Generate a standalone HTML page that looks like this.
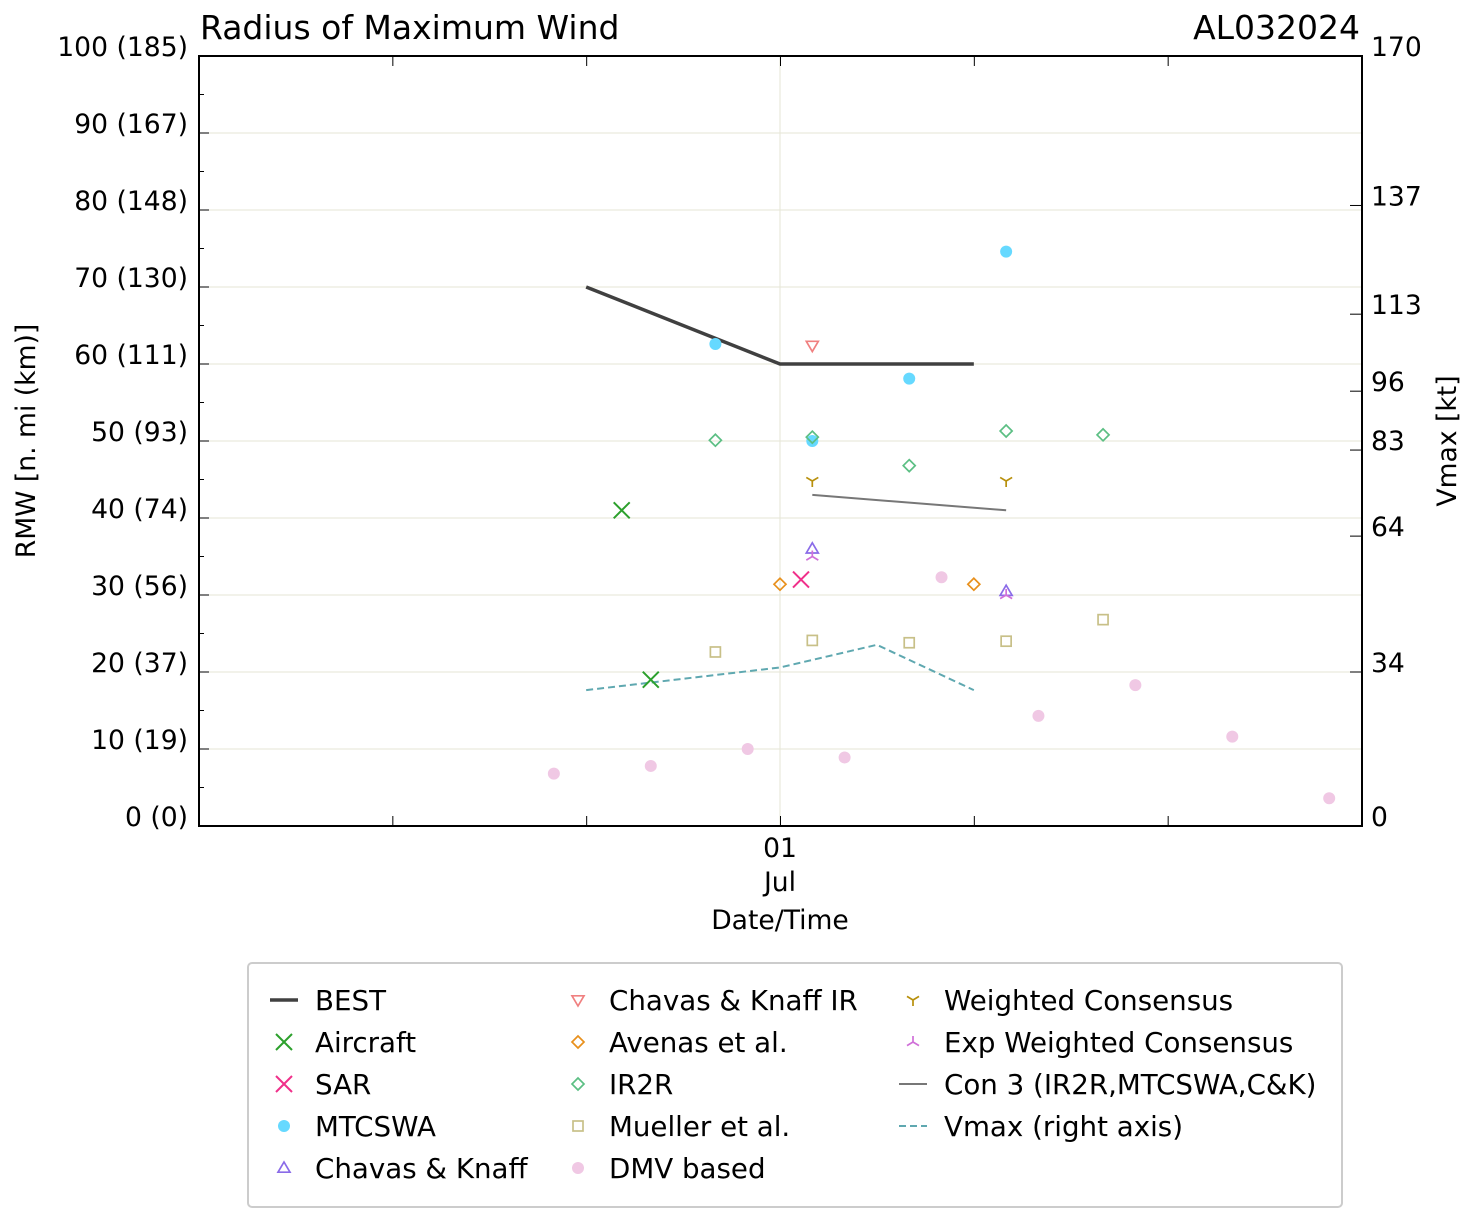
<!DOCTYPE html>
<html><head><meta charset="utf-8"><style>
body{margin:0;background:#fff;font-family:"DejaVu Sans","Liberation Sans",sans-serif}
svg text{font-family:"DejaVu Sans","Liberation Sans",sans-serif}
</style></head><body>
<svg id="c" width="1477" height="1222" xmlns="http://www.w3.org/2000/svg"></svg>
<script>
// data (hours relative to 01 Jul 00Z, RMW in n mi, Vmax in kt)
const bestH=[-6,0,6], bestV=[70,60,60];
const aircraftH=[-4.9,-4], aircraftV=[41,19];
const sarH=[0.65], sarV=[32];
const mtcH=[-2,1,4,7], mtcV=[62.6,50,58.1,74.6];
const ckH=[1,7], ckV=[36,30.5];
const ckirH=[1], ckirV=[62.4];
const avenasH=[0,6], avenasV=[31.4,31.4];
const ir2rH=[-2,1,4,7,10], ir2rV=[50.1,50.5,46.8,51.3,50.8];
const muellerH=[-2,1,4,7,10], muellerV=[22.6,24.1,23.8,24,26.8];
const dmvH=[-7,-4,-1,2,5,8,11,14,17], dmvV=[6.8,7.8,10,8.9,32.3,14.3,18.3,11.6,3.6];
const wcH=[1,7], wcV=[44.8,44.8];
const ewcH=[1,7], ewcV=[35,30];
const con3H=[1,7], con3V=[43,41];
const vmaxH=[-6,0,3,6], vmaxV=[30,35,40,30];
const leftTicks=[0,10,20,30,40,50,60,70,80,90,100];
const leftLabels=["0 (0)","10 (19)","20 (37)","30 (56)","40 (74)","50 (93)","60 (111)","70 (130)","80 (148)","90 (167)","100 (185)"];
const rightTicks=[0,34,64,83,96,113,137,170];

const X0=199,X1=1362,Y0=56,Y1=826;
const xs=h=>780+h*(X1-X0)/36;
const ys=v=>Y1-v*(Y1-Y0)/100;
const yr=v=>Y1-v*(Y1-Y0)/170;
const svg=document.getElementById('c');
const NS='http://www.w3.org/2000/svg';
function el(t,a,p){const e=document.createElementNS(NS,t);for(const k in a)e.setAttribute(k,a[k]);(p||svg).appendChild(e);return e;}
function tx(x,y,s,size,anchor,nm){const e=el('text',{x:x,y:y,'font-size':size,'text-anchor':anchor||'start',fill:'#000'});e.textContent=s;

return e;}

// grid
for(const v of leftTicks.slice(1,-1)){const g=el('line',{x1:X0,x2:X1,y1:ys(v),y2:ys(v),stroke:'#e6e6d6','stroke-width':1});

}
const vg=el('line',{x1:780,x2:780,y1:Y0,y2:Y1,stroke:'#e6e6d6','stroke-width':1});



// ticks
for(let v=0;v<=100;v+=5){const L=v%10==0?10:5;el('line',{x1:X0,x2:X0+L,y1:ys(v),y2:ys(v),stroke:'#000'});}
leftTicks.forEach((v,i)=>tx(188,ys(v)+0,leftLabels[i],26.6,'end','left-tick-label'));
rightTicks.forEach(v=>{el('line',{x1:X1,x2:X1-12,y1:yr(v),y2:yr(v),stroke:'#000'});tx(1371,yr(v),String(v),26.6,'start','right-tick-label');});
for(let i=0;i<=6;i++){const x=X0+i*(X1-X0)/6;el('line',{x1:x,x2:x,y1:Y1,y2:Y1-10,stroke:'#000'});el('line',{x1:x,x2:x,y1:Y0,y2:Y0+10,stroke:'#000'});}
tx(780,857,'01',26.6,'middle','x-tick-day');tx(780,891,'Jul',26.6,'middle','x-tick-month');
tx(780,929,'Date/Time',26.6,'middle','x-axis-title');
tx(200,39,'Radius of Maximum Wind',33,'start','chart-title');
tx(1360,39,'AL032024',33,'end','storm-id');
const yl=tx(0,0,'RMW [n. mi (km)]',26.6,'middle','y-axis-title');yl.setAttribute('transform','translate(35,441) rotate(-90)');
const yr2=tx(0,0,'Vmax [kt]',26.6,'middle','y2-axis-title');yr2.setAttribute('transform','translate(1456,441) rotate(-90)');

// markers
function marker(type,x,y,col,s){const g=el('g',{});
 if(type=='x'){el('path',{d:`M${x-s} ${y-s}L${x+s} ${y+s}M${x-s} ${y+s}L${x+s} ${y-s}`,stroke:col,'stroke-width':2,fill:'none'},g);}
 else if(type=='o'){el('circle',{cx:x,cy:y,r:s,fill:col},g);}
 else if(type=='^'){el('path',{d:`M${x} ${y-s}L${x+s} ${y+s*0.7}L${x-s} ${y+s*0.7}Z`,stroke:col,'stroke-width':1.7,fill:'none'},g);}
 else if(type=='v'){el('path',{d:`M${x} ${y+s}L${x+s} ${y-s*0.7}L${x-s} ${y-s*0.7}Z`,stroke:col,'stroke-width':1.7,fill:'none'},g);}
 else if(type=='d'){el('path',{d:`M${x} ${y-s}L${x+s} ${y}L${x} ${y+s}L${x-s} ${y}Z`,stroke:col,'stroke-width':1.7,fill:'none'},g);}
 else if(type=='s'){el('rect',{x:x-s,y:y-s,width:2*s,height:2*s,stroke:col,'stroke-width':1.7,fill:'none'},g);}
 else if(type=='1'){el('path',{d:`M${x} ${y}L${x} ${y+s}M${x} ${y}L${x-s} ${y-s*0.6}M${x} ${y}L${x+s} ${y-s*0.6}`,stroke:col,'stroke-width':1.7,fill:'none'},g);}
 else if(type=='2'){el('path',{d:`M${x} ${y}L${x} ${y-s}M${x} ${y}L${x-s} ${y+s*0.6}M${x} ${y}L${x+s} ${y+s*0.6}`,stroke:col,'stroke-width':1.7,fill:'none'},g);}
 return g;}
function series(H,V,type,col,s,nm){H.forEach((h,i)=>{const g=marker(type,xs(h),ys(V[i]),col,s);

});}
function line(H,V,yf,col,w,dash,nm){const p=el('polyline',{points:H.map((h,i)=>xs(h)+','+yf(V[i])).join(' '),stroke:col,'stroke-width':w,fill:'none','stroke-dasharray':dash||'none'});

}

series(dmvH,dmvV,'o','#f0c8e4',6,'dmv-point');
line(vmaxH,vmaxV,yr,'#5fa8b0',2,'7,4','vmax-line');
line(bestH,bestV,ys,'#404040',3.5,null,'best-track-line');
line(con3H,con3V,ys,'#777',2,null,'con3-line');
series(aircraftH,aircraftV,'x','#2ca02c',8,'aircraft-point');
series(sarH,sarV,'x','#f0308a',8,'sar-point');
series(mtcH,mtcV,'o','#66d9ff',6,'mtcswa-point');
series(ckH,ckV,'^','#8a6be8',6,'chavas-knaff-point');
series(ckirH,ckirV,'v','#f08080',6,'chavas-knaff-ir-point');
series(avenasH,avenasV,'d','#e8901c',6,'avenas-point');
series(ir2rH,ir2rV,'d','#5cbf84',6,'ir2r-point');
series(muellerH,muellerV,'s','#c8c088',5,'mueller-point');
series(wcH,wcV,'1','#b8900c',6,'weighted-consensus-point');
series(ewcH,ewcV,'2','#d070d8',6,'exp-weighted-consensus-point');

const fr=el('rect',{x:X0,y:Y0,width:X1-X0,height:Y1-Y0,fill:'none',stroke:'#000','stroke-width':2});



// legend
const lg=el('rect',{x:248,y:963,width:1094,height:244,rx:4,fill:'#fff',stroke:'#ccc','stroke-width':2});


const entries=[
[284,1000,'line','#404040','BEST'],[284,1042,'x','#2ca02c','Aircraft'],[284,1084,'x','#f0308a','SAR'],[284,1126,'o','#66d9ff','MTCSWA'],[284,1168,'^','#8a6be8','Chavas & Knaff'],
[578,1000,'v','#f08080','Chavas & Knaff IR'],[578,1042,'d','#e8901c','Avenas et al.'],[578,1084,'d','#5cbf84','IR2R'],[578,1126,'s','#c8c088','Mueller et al.'],[578,1168,'o','#f0c8e4','DMV based'],
[913,1000,'1','#b8900c','Weighted Consensus'],[913,1042,'2','#d070d8','Exp Weighted Consensus'],[913,1084,'solid','#777','Con 3 (IR2R,MTCSWA,C&K)'],[913,1126,'dash','#5fa8b0','Vmax (right axis)']];
entries.forEach(e=>{const [x,y,t,c,l]=e;let g;
 if(t=='line'){g=el('line',{x1:x-14,x2:x+14,y1:y,y2:y,stroke:c,'stroke-width':3.5});}
 else if(t=='solid'){g=el('line',{x1:x-14,x2:x+14,y1:y,y2:y,stroke:c,'stroke-width':2});}
 else if(t=='dash'){g=el('line',{x1:x-14,x2:x+14,y1:y,y2:y,stroke:c,'stroke-width':2,'stroke-dasharray':'7,4'});}
 else g=marker(t,x,y,c,t=='x'?8:(t=='s'?5:6));
 
 
 tx(x+31,y+10,l,27.7,'start','legend-entry');});
</script>
</body></html>
